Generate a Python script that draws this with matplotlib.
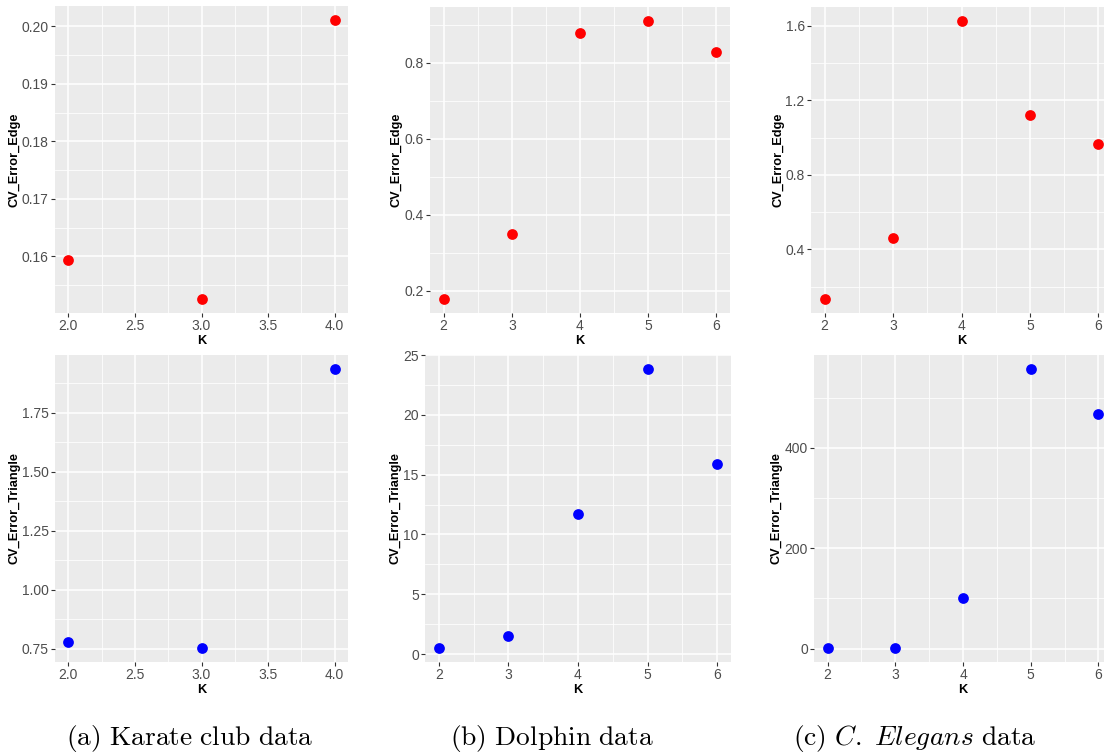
import matplotlib
matplotlib.use("Agg")
import matplotlib.pyplot as plt
from matplotlib.ticker import MultipleLocator, FormatStrFormatter

# values
k_karate = [2, 3, 4]
karate_edge = [0.1594, 0.1526, 0.2011]
karate_triangle = [0.780, 0.754, 1.935]

k_dolphin = [2, 3, 4, 5, 6]
dolphin_edge = [0.178, 0.348, 0.877, 0.910, 0.829]
dolphin_triangle = [0.50, 1.51, 11.72, 23.85, 15.88]

k_elegans = [2, 3, 4, 5, 6]
elegans_edge = [0.134, 0.463, 1.625, 1.123, 0.964]
elegans_triangle = [1.3, 2.0, 101.0, 557.0, 468.0]

captions = [r"$\mathrm{(a)\ Karate\ club\ data}$",
            r"$\mathrm{(b)\ Dolphin\ data}$",
            r"$\mathrm{(c)\ }\mathit{C.\ Elegans}\mathrm{\ data}$"]

plt.rcParams['font.family'] = ['Liberation Sans', 'DejaVu Sans']
plt.rcParams['mathtext.fontset'] = 'cm'

W, H = 1104, 753
fig = plt.figure(figsize=(W / 100, H / 100), dpi=100)


def px_axes(left, top, right, bottom):
    return fig.add_axes([left / W, 1 - bottom / H, (right - left) / W, (bottom - top) / H])


def gg_panel(ax, k, vals, color, ylabel, xmaj, xfmt, ymaj, yfmt):
    ax.set_facecolor('#EBEBEB')
    for s in ax.spines.values():
        s.set_visible(False)
    ax.scatter(k, vals, s=60, color=color, zorder=3, linewidths=0)
    ax.margins(0.05)
    ax.xaxis.set_major_locator(MultipleLocator(xmaj))
    ax.xaxis.set_minor_locator(MultipleLocator(xmaj / 2))
    ax.yaxis.set_major_locator(MultipleLocator(ymaj))
    ax.yaxis.set_minor_locator(MultipleLocator(ymaj / 2))
    ax.xaxis.set_major_formatter(FormatStrFormatter(xfmt))
    ax.yaxis.set_major_formatter(FormatStrFormatter(yfmt))
    ax.set_axisbelow(True)
    ax.grid(which='major', color='white', linewidth=1.1)
    ax.grid(which='minor', color='white', linewidth=0.55)
    ax.tick_params(which='major', length=3, width=0.8, color='#333333',
                   labelcolor='#4D4D4D', labelsize=10, pad=1.5)
    ax.tick_params(which='minor', length=0)
    ax.set_xlabel('K', fontsize=9.2, fontweight='bold', labelpad=1)
    ax.set_ylabel(ylabel, fontsize=9.2, fontweight='bold', labelpad=1)


ax = px_axes(55, 6, 348, 313)
gg_panel(ax, k_karate, karate_edge, '#FF0000', 'CV_Error_Edge', 0.5, '%.1f', 0.01, '%.2f')
ax = px_axes(430, 7, 730, 313)
gg_panel(ax, k_dolphin, dolphin_edge, '#FF0000', 'CV_Error_Edge', 1, '%d', 0.2, '%.1f')
ax = px_axes(811, 7, 1112, 313)
gg_panel(ax, k_elegans, elegans_edge, '#FF0000', 'CV_Error_Edge', 1, '%d', 0.4, '%.1f')

ax = px_axes(55, 355, 348, 662)
gg_panel(ax, k_karate, karate_triangle, '#0000FF', 'CV_Error_Triangle', 0.5, '%.1f', 0.25, '%.2f')
ax = px_axes(425, 355, 731, 662)
gg_panel(ax, k_dolphin, dolphin_triangle, '#0000FF', 'CV_Error_Triangle', 1, '%d', 5, '%d')
ax = px_axes(814, 355, 1112, 662)
gg_panel(ax, k_elegans, elegans_triangle, '#0000FF', 'CV_Error_Triangle', 1, '%d', 200, '%d')

for x, text in zip([0.172, 0.5, 0.828], captions):
    fig.text(x, 1 - 745 / H, text, ha='center', va='baseline', fontsize=19.8)

fig.savefig('out.png', dpi=100)
